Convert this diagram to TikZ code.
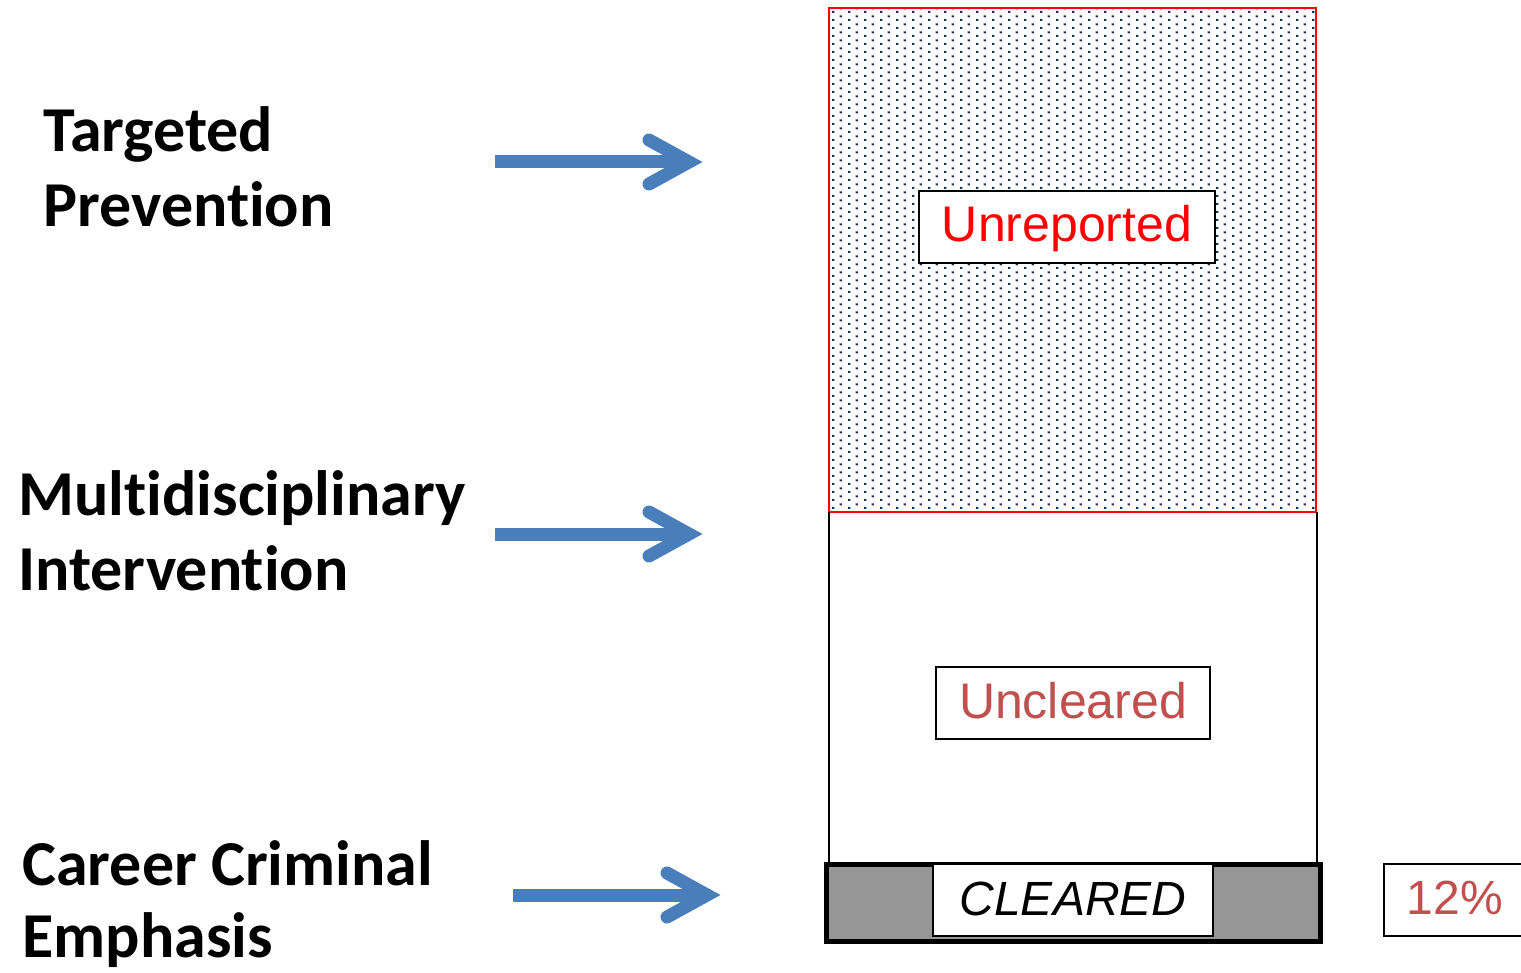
\documentclass[tikz,border=0pt]{standalone}
\usepackage{fontspec}
\setmainfont{Liberation Sans}
\newfontfamily\calib[Ligatures=NoCommon]{Carlito}
\usetikzlibrary{calc,patterns.meta}
\definecolor{arrowblue}{HTML}{4A7EBB}
\definecolor{dotnavy}{HTML}{17325E}
\definecolor{darkred}{HTML}{C0504D}
\definecolor{bargray}{HTML}{969696}
\pgfdeclarepattern{
  name=navydots,
  type=uncolored,
  bottom left={\pgfpoint{0pt}{0pt}},
  top right={\pgfpoint{8pt}{4pt}},
  tile size={\pgfpoint{8pt}{4pt}},
  code={
    \pgfpathrectangle{\pgfpoint{0pt}{0pt}}{\pgfpoint{1.2pt}{1.2pt}}
    \pgfpathrectangle{\pgfpoint{4pt}{2pt}}{\pgfpoint{1.2pt}{1.2pt}}
    \pgfusepath{fill}
  }
}
\tikzset{
  leftlabel/.style={anchor=base west, inner sep=0pt, font=\calib\bfseries\fontsize{32}{37}\selectfont},
  shaft/.style={line width=6.5pt, draw=arrowblue},
  barb/.style={line width=6.5pt, draw=arrowblue, line cap=round, line join=miter},
  labelbox/.style={draw=black, line width=1pt, fill=white, inner sep=0pt, text height=18pt, text depth=3pt, minimum height=36pt, font=\fontsize{25}{30}\selectfont}
}
\begin{document}
\begin{tikzpicture}[x=0.5pt,y=-0.5pt]
\useasboundingbox (0,0) rectangle (1521,973);
% left labels
\node[leftlabel] (tp1) at (43,152) {Targeted};
\node[leftlabel] (tp2) at (43,227) {Prevention};
\node[leftlabel] (mi1) at (18,515) {Multidisciplinary};
\node[leftlabel] (mi2) at (18,590) {Intervention};
\node[leftlabel] (cc1) at (22,885) {Career Criminal};
\node[leftlabel] (cc2) at (22,957) {Emphasis};
% arrows
\coordinate (a1s) at (495,162); \coordinate (a1e) at (689,162);
\coordinate (a2s) at (495,534); \coordinate (a2e) at (689,534);
\coordinate (a3s) at (513,895); \coordinate (a3e) at (707,895);
\foreach \s/\e in {a1s/a1e,a2s/a2e,a3s/a3e}{
  \draw[shaft] (\s) -- (\e);
  \draw[barb] ($(\e)+(-40,-22)$) -- (\e) -- ($(\e)+(-40,22)$);
}
% unreported region
\fill[pattern=navydots, pattern color=dotnavy] (829,8) rectangle (1316,512);
\draw[red, line width=0.75pt] (829,8) rectangle (1316,512);
% uncleared region
\draw[black, line width=0.6pt] (829,512) -- (829,862) (1317,512) -- (1317,862);
% cleared bar
\draw[black, line width=2.5pt, fill=bargray] (826.5,864.5) rectangle (1320.5,941.5);
% label boxes
\node[labelbox, minimum width=148pt, text=red] (unrep) at (1067,227) {Unreported};
\node[labelbox, minimum width=137pt, text=darkred] (uncl) at (1073,703) {Uncleared};
\node[labelbox, minimum width=140pt, font=\itshape\fontsize{24}{30}\selectfont] (clr) at (1073,900) {CLEARED};
\node[labelbox, minimum width=71pt, text=darkred, font=\fontsize{24}{30}\selectfont] (pct) at (1455,899.5) {12\%};
\end{tikzpicture}
\end{document}
